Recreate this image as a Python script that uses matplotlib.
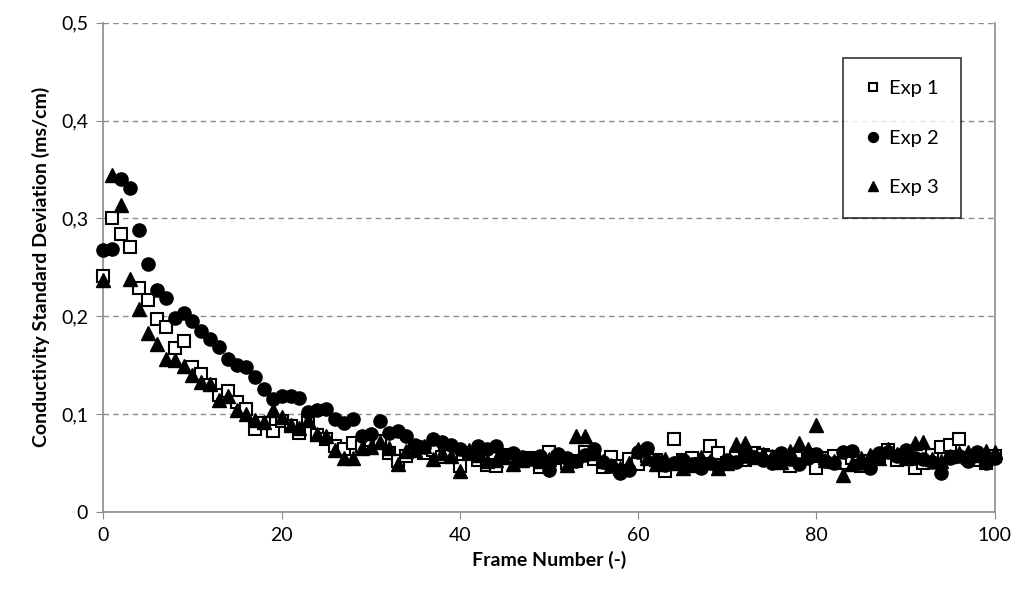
# Scatter of conductivity standard deviation per frame for three experiments.

import numpy as np
import matplotlib.pyplot as plt
from matplotlib.ticker import FuncFormatter

plt.rcParams['font.family'] = ['Lato', 'DejaVu Sans']

# Data.
frames = np.arange(0, 101)

exp1 = [0.241, 0.300, 0.284, 0.271, 0.229, 0.217, 0.197, 0.189, 0.167, 0.175,
        0.148, 0.141, 0.130, 0.119, 0.124, 0.112, 0.105, 0.085, 0.091, 0.083,
        0.093, 0.088, 0.081, 0.094, 0.079, 0.074, 0.067, 0.064, 0.070, 0.067,
        0.073, 0.072, 0.060, 0.052, 0.057, 0.066, 0.060, 0.063, 0.056, 0.057,
        0.047, 0.059, 0.053, 0.048, 0.047, 0.058, 0.057, 0.052, 0.055, 0.046,
        0.061, 0.055, 0.050, 0.052, 0.061, 0.054, 0.046, 0.056, 0.047, 0.054,
        0.049, 0.057, 0.053, 0.042, 0.074, 0.053, 0.055, 0.049, 0.067, 0.060,
        0.050, 0.055, 0.053, 0.060, 0.058, 0.056, 0.053, 0.047, 0.055, 0.058,
        0.045, 0.055, 0.057, 0.050, 0.055, 0.047, 0.052, 0.056, 0.063, 0.053,
        0.058, 0.045, 0.050, 0.058, 0.066, 0.068, 0.074, 0.055, 0.053, 0.050,
        0.057]

exp2 = [0.268, 0.269, 0.340, 0.331, 0.288, 0.253, 0.227, 0.219, 0.198, 0.203,
        0.195, 0.185, 0.177, 0.168, 0.156, 0.150, 0.148, 0.138, 0.126, 0.115,
        0.118, 0.118, 0.116, 0.102, 0.104, 0.105, 0.095, 0.091, 0.095, 0.077,
        0.080, 0.093, 0.081, 0.083, 0.078, 0.068, 0.066, 0.074, 0.071, 0.068,
        0.064, 0.060, 0.067, 0.064, 0.067, 0.058, 0.060, 0.056, 0.054, 0.057,
        0.043, 0.059, 0.055, 0.052, 0.058, 0.064, 0.051, 0.047, 0.040, 0.043,
        0.061, 0.065, 0.052, 0.048, 0.050, 0.053, 0.049, 0.045, 0.050, 0.046,
        0.053, 0.051, 0.057, 0.056, 0.053, 0.050, 0.060, 0.054, 0.049, 0.055,
        0.059, 0.052, 0.050, 0.061, 0.062, 0.050, 0.045, 0.060, 0.061, 0.057,
        0.063, 0.055, 0.054, 0.051, 0.040, 0.055, 0.057, 0.052, 0.061, 0.050,
        0.055]

exp3 = [0.237, 0.344, 0.314, 0.238, 0.207, 0.183, 0.172, 0.156, 0.155, 0.149,
        0.140, 0.133, 0.131, 0.114, 0.118, 0.104, 0.100, 0.094, 0.092, 0.104,
        0.097, 0.089, 0.086, 0.094, 0.080, 0.077, 0.063, 0.055, 0.055, 0.065,
        0.066, 0.071, 0.065, 0.049, 0.062, 0.063, 0.067, 0.054, 0.060, 0.057,
        0.042, 0.063, 0.058, 0.052, 0.053, 0.056, 0.049, 0.053, 0.055, 0.052,
        0.054, 0.057, 0.048, 0.077, 0.078, 0.060, 0.052, 0.048, 0.045, 0.050,
        0.064, 0.055, 0.049, 0.054, 0.050, 0.045, 0.048, 0.056, 0.052, 0.045,
        0.050, 0.069, 0.070, 0.056, 0.059, 0.057, 0.051, 0.062, 0.070, 0.064,
        0.089, 0.053, 0.052, 0.038, 0.049, 0.055, 0.058, 0.055, 0.064, 0.059,
        0.055, 0.070, 0.071, 0.054, 0.052, 0.057, 0.060, 0.061, 0.058, 0.062,
        0.061]

# Create figure and axes.
fig = plt.figure(figsize = (10.13, 6), dpi = 100)
ax1 = fig.add_axes([0.102, 0.147, 0.880, 0.815])

# Add data.
ax1.plot(frames, exp1, linestyle = 'none', marker = 's', markersize = 8.5,
         markerfacecolor = 'white', markeredgecolor = 'black', markeredgewidth = 1.5,
         label = 'Exp 1', zorder = 3, clip_on = False)
ax1.plot(frames, exp2, linestyle = 'none', marker = 'o', markersize = 9.5,
         color = 'black', label = 'Exp 2', zorder = 3, clip_on = False)
ax1.plot(frames, exp3, linestyle = 'none', marker = '^', markersize = 9.5,
         color = 'black', label = 'Exp 3', zorder = 3, clip_on = False)

# Axes limits, ticks and gridlines.
ax1.set_xlim(0, 100)
ax1.set_ylim(0, 0.5)
ax1.set_xticks(np.arange(0, 101, 20))
ax1.set_yticks(np.arange(0, 0.51, 0.1))
ax1.yaxis.set_major_formatter(FuncFormatter(
    lambda v, p: '0' if abs(v) < 1e-9 else ('%.1f' % v).replace('.', ',')))
ax1.grid(axis = 'y', linestyle = (0, (4, 3)), color = '#8c8c8c', linewidth = 1)
ax1.set_axisbelow(True)
ax1.tick_params(axis = 'both', direction = 'out', length = 5, color = '#8c8c8c',
                labelsize = 14, pad = 6)

for side in ['left', 'bottom', 'right']:
    ax1.spines[side].set_color('#8c8c8c')
    ax1.spines[side].set_linewidth(1.2)
ax1.spines['top'].set_visible(False)

# Axis titles.
ax1.set_xlabel('Frame Number (-)', fontweight = 'bold', fontsize = 14, labelpad = 5)
ax1.set_ylabel('Conductivity Standard Deviation (ms/cm)', fontweight = 'bold',
               fontsize = 14, labelpad = 8)

# Legend.
leg = ax1.legend(loc = 'upper right', bbox_to_anchor = (0.962, 0.928), fontsize = 14.5,
                 frameon = True, fancybox = False, edgecolor = 'black',
                 markerscale = 0.75, handlelength = 0.8, handletextpad = 0.4,
                 labelspacing = 1.6, borderpad = 1.1, borderaxespad = 0)
leg.get_frame().set_linewidth(1.2)

plt.savefig('out.png', dpi = 100)
